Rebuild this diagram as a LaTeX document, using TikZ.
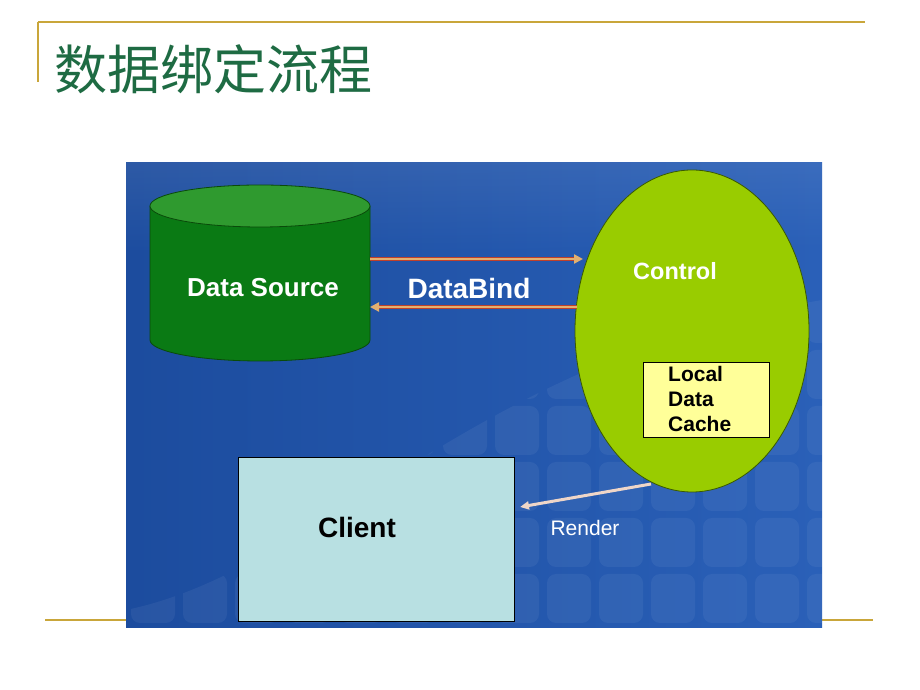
\documentclass[tikz,border=0pt]{standalone}
\usepackage{fontspec}
\setmainfont{Liberation Sans}
\newfontfamily\cjk{Noto Sans CJK SC}
\usetikzlibrary{arrows.meta,shapes.geometric}
\definecolor{gold}{HTML}{C9A63A}
\definecolor{titlegreen}{HTML}{1E6B43}
\definecolor{bgleft}{HTML}{1C4C9E}
\definecolor{bgright}{HTML}{2A60B8}
\definecolor{cylbody}{HTML}{0A7A14}
\definecolor{cyltop}{HTML}{2F9A2F}
\definecolor{cylline}{HTML}{0A4A0A}
\definecolor{lime}{HTML}{99CC00}
\definecolor{limeline}{HTML}{3A5A00}
\definecolor{cachefill}{HTML}{FFFF99}
\definecolor{clientfill}{HTML}{B8E0E2}
\definecolor{arrowtan}{HTML}{E2B070}
\definecolor{arrowred}{HTML}{C0402A}
\definecolor{renderc}{HTML}{EFD6C8}
\tikzset{
  wlabel/.style={text=white, font=\bfseries\fontsize{26}{30}\selectfont, inner sep=0pt},
  blabel/.style={text=black, font=\bfseries\fontsize{28}{32}\selectfont, inner sep=0pt},
  bindline/.style={draw=arrowred, line width=4.4pt},
  bindcore/.style={draw=arrowtan, line width=2.4pt, -{Triangle[length=9pt,width=9pt]}},
  tile/.style={fill=white, opacity=0.055, rounded corners=9pt}
}
\begin{document}
\begin{tikzpicture}[x=1pt,y=1pt]
\useasboundingbox (0,0) rectangle (920,690);
\fill[white] (0,0) rectangle (920,690);
% frame lines
\draw[gold, line width=2pt] (38,668) -- (865,668);
\draw[gold, line width=1.5pt] (38,668) -- (38,608);
\draw[gold, line width=1.5pt] (45,70) -- (873,70);
% title
\node[anchor=west, inner sep=0pt, text=titlegreen, font=\cjk\fontsize{53}{60}\selectfont] (title) at (54,621) {数据绑定流程};
% blue background
\shade[left color=bgleft, right color=bgright] (126,62) rectangle (822,527);
\shade[top color=white, bottom color=bgright, opacity=0.08] (126,527) rectangle (822,440);
\begin{scope}
  \clip (126,62) -- (126,80) .. controls (320,120) and (470,330) .. (822,390) -- (822,62) -- cycle;
  \foreach \x in {128,180,...,820} {
    \foreach \y in {64,120,...,420} {
      \fill[tile] (\x+3,\y+3) rectangle ++(44,49);
    }
  }
\end{scope}
% cylinder (data source)
\fill[cylbody] (150,484) -- (150,350) arc[start angle=180, end angle=360, x radius=110, y radius=21] -- (370,484) -- cycle;
\draw[cylline, line width=0.8pt] (150,484) -- (150,350) arc[start angle=180, end angle=360, x radius=110, y radius=21] -- (370,484);
\filldraw[fill=cyltop, draw=cylline, line width=0.8pt] (260,484) ellipse [x radius=110, y radius=21];
\node[wlabel] (ds) at (263,402) {Data Source};
% control ellipse
\node[ellipse, draw=limeline, fill=lime, line width=0.8pt, minimum width=234pt, minimum height=322pt, inner sep=0pt] (ctrl) at (692,359) {};
\node[wlabel, font=\bfseries\fontsize{23.5}{27}\selectfont] (ctrltext) at (675,419) {Control};
% local data cache
\node[draw=black, fill=cachefill, line width=0.8pt, minimum width=126pt, minimum height=75pt, inner sep=0pt] (cache) at (706,290.5) {};
\node[anchor=north west, inner sep=0pt, align=left, font=\bfseries\fontsize{21}{25}\selectfont] (cachetext) at (668,324) {Local\\Data\\Cache};
% client
\node[draw=black, fill=clientfill, line width=0.8pt, minimum width=276pt, minimum height=164pt, inner sep=0pt] (client) at (376,151) {};
\node[blabel] (clienttext) at (357,163) {Client};
% databind arrows
\coordinate (a1s) at (370,431);
\coordinate (a1e) at (583,431);
\coordinate (a2s) at (577,383);
\coordinate (a2e) at (370,383);
\draw[bindline, shorten >=7pt] (a1s) -- (a1e);
\draw[bindcore] (a1s) -- (a1e);
\draw[bindline, shorten >=7pt] (a2s) -- (a2e);
\draw[bindcore] (a2s) -- (a2e);
\node[wlabel, font=\bfseries\fontsize{28}{32}\selectfont] (db) at (469,402) {DataBind};
% render arrow
\coordinate (rs) at (651,206);
\coordinate (re) at (520,183);
\draw[draw=renderc, line width=3pt, -{Triangle[length=9pt,width=8pt]}] (rs) -- (re);
\node[text=white, inner sep=0pt, font=\fontsize{21}{25}\selectfont] (render) at (585,162) {Render};
\end{tikzpicture}
\end{document}
